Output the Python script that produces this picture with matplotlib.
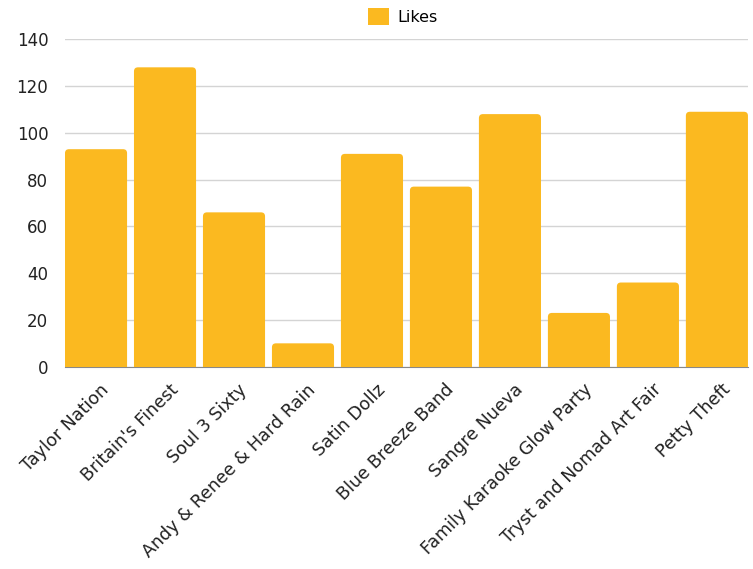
import matplotlib
matplotlib.use("Agg")
import matplotlib.pyplot as plt
from matplotlib.patches import FancyBboxPatch, Patch
import matplotlib.transforms as mtransforms

categories = ["Taylor Nation", "Britain's Finest", "Soul 3 Sixty", "Andy & Renee & Hard Rain",
              "Satin Dollz", "Blue Breeze Band", "Sangre Nueva", "Family Karaoke Glow Party",
              "Tryst and Nomad Art Fair", "Petty Theft"]
likes = [93, 128, 66, 10, 91, 77, 108, 23, 36, 109]
yticks = [0, 20, 40, 60, 80, 100, 120, 140]
series_name = "Likes"

plt.rcParams['font.family'] = ['DejaVu Sans']
color = "#FBB920"
fs = 12.6

fig = plt.figure(figsize=(7.53, 5.69), dpi=100)
ax = fig.add_axes([0.0863, 0.3555, 0.907, 0.5755])

x = list(range(len(categories)))
bars = ax.bar(x, likes, width=0.9, color=color, label=series_name)

ax.set_xlim(-0.45, len(categories) - 0.55)
ax.set_ylim(0, 140)

# replace bars with rounded-top versions
px_x = 0.907 * 753 / 9.9
px_y = 0.5755 * 569 / 140
r_px = 4
rx = r_px / px_x
ry = r_px / px_y
aspect = ry / rx
for b in bars:
    b.set_visible(False)
    p = FancyBboxPatch((b.get_x() + rx, b.get_y()), b.get_width() - 2 * rx,
                       b.get_height() - ry,
                       boxstyle=f"round,pad={rx},rounding_size={rx}",
                       mutation_aspect=aspect, facecolor=color, edgecolor="none",
                       clip_on=True)
    ax.add_patch(p)

ax.set_yticks(yticks)
ax.set_xticks(x)
ax.set_xticklabels(categories, rotation=45, ha='right', rotation_mode='anchor', fontsize=fs)
ax.tick_params(axis='y', length=0, pad=12, labelsize=12, labelcolor="#222222")
ax.tick_params(axis='x', length=0, pad=10, labelcolor="#222222")
for lbl in ax.get_xticklabels():
    lbl.set_transform(lbl.get_transform() + mtransforms.ScaledTranslation(4/100, 0, fig.dpi_scale_trans))

ax.grid(axis='y', color="#d4d4d4", linewidth=1)
ax.set_axisbelow(True)
for s in ['top', 'right', 'left']:
    ax.spines[s].set_visible(False)
ax.spines['bottom'].set_color("#888888")
ax.spines['bottom'].set_zorder(0.5)

fig.legend(handles=[Patch(facecolor=color, label=series_name)], loc='upper center',
           bbox_to_anchor=(0.535, 1.012), frameon=False, fontsize=11.5,
           handlelength=1.3, handleheight=1.3, handletextpad=0.5)

fig.savefig("out.png", dpi=100)
